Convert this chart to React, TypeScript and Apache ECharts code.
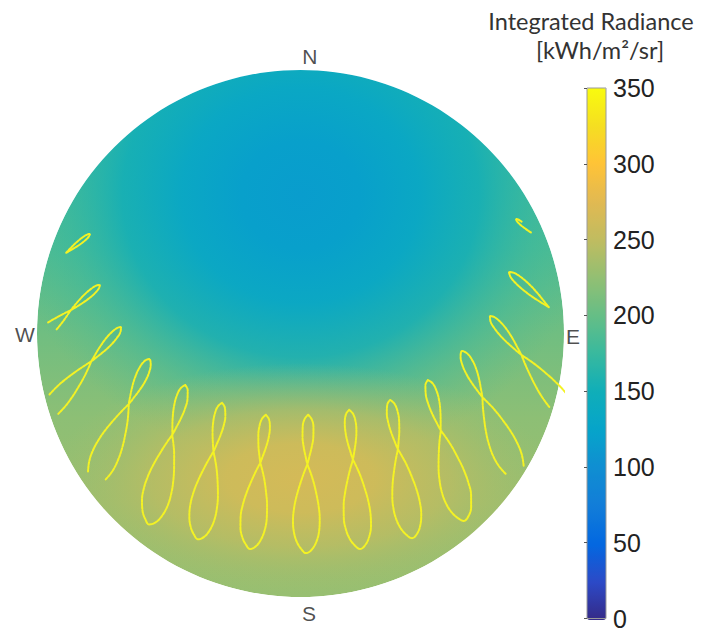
import React, { useEffect, useRef } from 'react';
import * as echarts from 'echarts';

// ---- colour bar -------------------------------------------------------------
const colorbarTicks = [0, 50, 100, 150, 200, 250, 300, 350];
const colorbarMin = 0;
const colorbarMax = 350;
// parula colormap, evenly spaced samples from 0 to 350
const parulaColors = [
  '#352a87', '#2c4ac7', '#0268e1', '#127dd8', '#108ed2', '#06a4ca', '#0faeb9', '#38b99e',
  '#65be86', '#92bf73', '#c0bc60', '#e1b952', '#ffc337', '#f5de21', '#f9fb0e',
];

// ---- sky radiance (kWh/m²/sr) -------------------------------------------------
const skyBaseValues = [168, 188, 206, 222, 230, 228]; // north horizon -> south horizon
const skyBlobValues = [117, 121, 132, 148, 170, 185]; // dim zone north of zenith, centre -> rim
const skyGlowValues = [265, 262, 252, 240, 235]; // bright zone over the sun path, centre -> rim

// ---- compass labels ---------------------------------------------------------
const compassNames = ['N', 'S', 'W', 'E'];
const compassX = [3.2, 2.9, -94.1, 93.1];
const compassY = [94.5, -95.5, -0.5, -0.9];

// ---- analemmas (one per hour), sky coordinates in degrees from zenith --------
// shared figure-eight outline: u along the axis (summer end = 0), v across it
const loopU = [0, 0.03, 0.09, 0.16, 0.23, 0.3, 0.355, 0.42, 0.5, 0.59, 0.68, 0.77, 0.85, 0.92, 0.97, 1.0,
  0.975, 0.92, 0.84, 0.75, 0.66, 0.57, 0.48, 0.41, 0.355, 0.3, 0.23, 0.16, 0.09, 0.03];
const loopV = [0, 0.026, 0.04, 0.04, 0.03, 0.014, 0, -0.024, -0.05, -0.075, -0.092, -0.098, -0.09, -0.068, -0.036, 0,
  0.04, 0.072, 0.092, 0.095, 0.086, 0.068, 0.045, 0.021, 0, -0.014, -0.029, -0.038, -0.038, -0.025];
const analemmaTopX = [-71.9, -68.5, -61.3, -51.7, -39.4, -26.8, -11.8, 2.6, 16.6, 30.6, 43.5, 55.2, 64.7, 71.2, 73.6];
const analemmaTopY = [34.0, 16.6, 2.2, -8.7, -17.6, -23.7, -27.8, -27.8, -26.1, -22.7, -15.9, -6.0, 6.0, 21.0, 39.1];
const analemmaEndX = [-94.8, -96.5, -89.7, -71.2, -51.7, -35.0, -17.2, 1.9, 20.3, 38.1, 55.8, 74.6, 94.8, 109.5, 91.0];
const analemmaEndY = [15.9, -7.7, -30.6, -51.9, -65.2, -70.3, -73.6, -75.0, -73.6, -69.9, -64.0, -50.1, -31.3, -12.8, 24.4];
const analemmaWidth = [0.6, 0.7, 0.8, 1, 1, 1, 1, 1, 1, 1, 1, 1, 0.8, 0.7, 0.6];
const visibleFrom = [24, 21, 18, 17, 0, 0, 0, 0, 0, 0, 0, 17, 18, 24, 25];
const visibleTo = [36, 39, 41, 43, 30, 30, 30, 30, 30, 30, 30, 43, 41, 36, 32];

// ---- layout of the shaded layers (sky coordinates) ---------------------------
const skyLayout = {
  baseOffsets: [0, 0.34, 0.5, 0.66, 0.82, 1],
  blobCenterY: 47.3,
  blobRadius: 92.2,
  blobStretchX: 1.1,
  blobOffsets: [0, 0.2, 0.4, 0.6, 0.8, 1],
  blobAlpha: [1, 1, 0.97, 0.8, 0.4, 0],
  glowCenterY: -49.4,
  glowRadiusX: 85.4,
  glowRadiusY: 39.3,
  glowOffsets: [0, 0.3, 0.6, 0.85, 1],
  glowAlpha: [1, 0.95, 0.65, 0.25, 0],
};

function hexToRgb(h: string) {
  const n = parseInt(h.slice(1), 16);
  return [(n >> 16) & 255, (n >> 8) & 255, n & 255];
}

function parula(v: number, a = 1) {
  const t = Math.max(0, Math.min(1, (v - colorbarMin) / (colorbarMax - colorbarMin))) * (parulaColors.length - 1);
  const i = Math.min(Math.floor(t), parulaColors.length - 2);
  const f = t - i;
  const c0 = hexToRgb(parulaColors[i]);
  const c1 = hexToRgb(parulaColors[i + 1]);
  const r = c0.map((c, k) => Math.round(c + (c1[k] - c) * f));
  return `rgba(${r[0]},${r[1]},${r[2]},${a})`;
}

function analemmaPoints(i: number) {
  const tx = analemmaTopX[i];
  const ty = analemmaTopY[i];
  const dx = analemmaEndX[i] - tx;
  const dy = analemmaEndY[i] - ty;
  const L = Math.hypot(dx, dy);
  const ux = dx / L;
  const uy = dy / L;
  const px = -uy;
  const py = ux;
  const n = loopU.length;
  const pts: number[][] = [];
  for (let k = visibleFrom[i]; k <= visibleTo[i]; k++) {
    const j = k % n;
    const u = loopU[j] * L;
    const v = loopV[j] * L * analemmaWidth[i];
    pts.push([tx + ux * u + px * v, ty + uy * u + py * v]);
  }
  return pts;
}

function buildOption() {
  const baseStops = skyBaseValues.map((v, i) => ({ offset: skyLayout.baseOffsets[i], color: parula(v) }));
  const blobStops = skyBlobValues.map((v, i) => ({ offset: skyLayout.blobOffsets[i], color: parula(v, skyLayout.blobAlpha[i]) }));
  const glowStops = skyGlowValues.map((v, i) => ({ offset: skyLayout.glowOffsets[i], color: parula(v, skyLayout.glowAlpha[i]) }));

  const skySeries = {
    type: 'custom',
    name: 'sky',
    coordinateSystem: 'cartesian2d',
    xAxisIndex: 0,
    yAxisIndex: 0,
    data: [[0, 0]],
    z: 1,
    silent: true,
    clip: false,
    renderItem: (_params: any, api: any) => {
      const c = api.coord([0, 0]);
      const R = api.size([90, 0])[0];
      const bc = api.coord([0, skyLayout.blobCenterY]);
      const br = api.size([skyLayout.blobRadius, 0])[0];
      const gc = api.coord([0, skyLayout.glowCenterY]);
      const grx = api.size([skyLayout.glowRadiusX, 0])[0];
      const gry = api.size([0, skyLayout.glowRadiusY])[1];
      return {
        type: 'group',
        children: [
          {
            type: 'circle',
            shape: { cx: c[0], cy: c[1], r: R },
            style: { fill: new echarts.graphic.LinearGradient(0, 0, 0, 1, baseStops) },
          },
          {
            type: 'circle',
            x: bc[0],
            y: bc[1],
            scaleX: skyLayout.blobStretchX,
            shape: { cx: 0, cy: 0, r: br },
            style: { fill: new echarts.graphic.RadialGradient(0.5, 0.5, 0.5, blobStops) },
          },
          {
            type: 'circle',
            x: gc[0],
            y: gc[1],
            scaleY: gry / grx,
            shape: { cx: 0, cy: 0, r: grx },
            style: { fill: new echarts.graphic.RadialGradient(0.5, 0.5, 0.5, glowStops) },
          },
          {
            type: 'ring',
            shape: { cx: c[0], cy: c[1], r: R + 420, r0: R },
            style: { fill: '#ffffff' },
          },
        ],
      };
    },
  };

  const analemmaSeries = analemmaTopX.map((_, i) => ({
    type: 'line',
    name: 'analemma' + i,
    xAxisIndex: 0,
    yAxisIndex: 0,
    data: analemmaPoints(i),
    showSymbol: false,
    smooth: 0.4,
    silent: true,
    z: 3,
    lineStyle: { color: '#f4f224', width: 2, type: [2.5, 1.2], cap: 'round' },
  }));

  const compassSeries = {
    type: 'scatter',
    name: 'compass',
    xAxisIndex: 0,
    yAxisIndex: 0,
    clip: false,
    silent: true,
    z: 6,
    symbolSize: 1,
    itemStyle: { color: 'rgba(0,0,0,0)' },
    label: {
      show: true,
      position: 'inside',
      formatter: '{b}',
      fontSize: 21,
      color: '#1f1f1f',
      fontFamily: 'Liberation Sans, Arial, sans-serif',
    },
    data: compassNames.map((n, i) => ({ name: n, value: [compassX[i], compassY[i]] })),
  };

  return {
    animation: false,
    backgroundColor: '#ffffff',
    grid: [
      { left: 37, top: 70, width: 527, height: 527, show: false },
      {
        left: 587, top: 88, width: 19, height: 532, show: true, z: 10,
        backgroundColor: 'transparent', borderColor: '#9a9a9a', borderWidth: 1,
      },
    ],
    xAxis: [
      { type: 'value', gridIndex: 0, min: -90, max: 90, show: false },
      { type: 'value', gridIndex: 1, min: 0, max: 1, show: false },
    ],
    yAxis: [
      { type: 'value', gridIndex: 0, min: -90, max: 90, show: false },
      {
        type: 'value', gridIndex: 1, min: colorbarTicks[0], max: colorbarTicks[colorbarTicks.length - 1],
        interval: colorbarTicks[1] - colorbarTicks[0], position: 'right', z: 10,
        axisLine: { show: false },
        splitLine: { show: false },
        axisTick: { show: true, inside: true, length: 3, lineStyle: { color: '#555555', width: 1 } },
        axisLabel: { fontSize: 25, color: '#222222', margin: 7, fontFamily: 'Liberation Sans, Arial, sans-serif' },
      },
    ],
    visualMap: {
      type: 'continuous',
      min: colorbarMin,
      max: colorbarMax,
      seriesIndex: 0,
      calculable: false,
      hoverLink: false,
      orient: 'vertical',
      left: 587,
      top: 88,
      itemWidth: 19,
      itemHeight: 532,
      padding: 0,
      z: 5,
      inRange: { color: parulaColors },
    },
    graphic: [
      {
        type: 'text', x: 591, y: 21, z: 100, silent: true,
        style: {
          text: 'Integrated Radiance', font: '23.5px Lato, sans-serif', fill: '#333333',
          textAlign: 'center', textVerticalAlign: 'middle', align: 'center', verticalAlign: 'middle',
        },
      },
      {
        type: 'text', x: 600, y: 50, z: 100, silent: true,
        style: {
          text: '[kWh/m²/sr]', font: '23.5px Lato, sans-serif', fill: '#333333',
          textAlign: 'center', textVerticalAlign: 'middle', align: 'center', verticalAlign: 'middle',
        },
      },
    ],
    series: [skySeries, ...analemmaSeries, compassSeries],
  };
}

export default function App() {
  const ref = useRef<HTMLDivElement>(null);
  useEffect(() => {
    const chart = echarts.init(ref.current!, null, { renderer: 'svg' });
    chart.setOption(buildOption() as any);
    return () => chart.dispose();
  }, []);
  return <div ref={ref} style={{ position: 'fixed', left: 0, top: 0, width: 707, height: 631 }} />;
}
